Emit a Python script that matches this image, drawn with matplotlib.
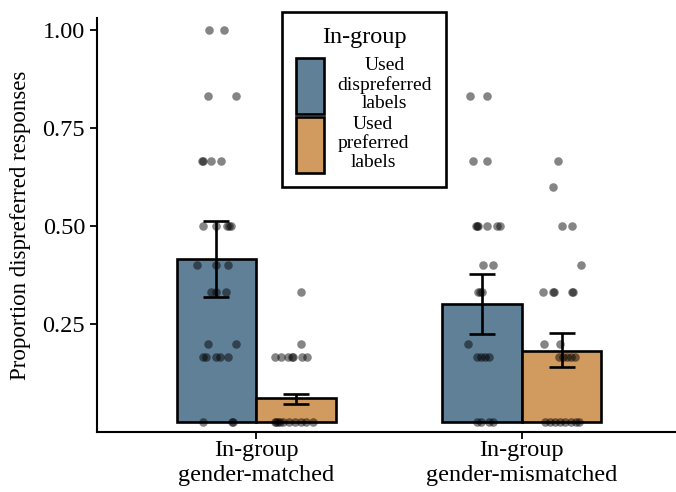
import numpy as np
import matplotlib
matplotlib.use("Agg")
import matplotlib.pyplot as plt
from matplotlib.patches import Patch

plt.rcParams["font.family"] = ["Liberation Serif", "DejaVu Serif"]

# -----------------------------
# Data
# -----------------------------
groups = ["In-group\ngender-matched", "In-group\ngender-mismatched"]
conditions = ["Used\ndispreferred\nlabels", "Used\npreferred\nlabels"]

means_dispreferred = [0.416, 0.301]
means_preferred = [0.061, 0.181]
lower_dispreferred = [0.318, 0.224]
upper_dispreferred = [0.514, 0.378]
lower_preferred = [0.046, 0.140]
upper_preferred = [0.072, 0.227]

# individual participants: proportion and horizontal jitter (in x units)
matched_disp_vals = [1.0, 1.0, 0.833, 0.833, 0.667, 0.667, 0.667, 0.667,
                     0.5, 0.5, 0.5, 0.5, 0.5, 0.4, 0.4, 0.4,
                     0.333, 0.333, 0.333, 0.2, 0.2,
                     0.167, 0.167, 0.167, 0.167, 0.167, 0.0, 0.0, 0.0]
matched_disp_jit = [-0.029, 0.030, -0.032, 0.072, -0.055, -0.051, -0.022, 0.017,
                    -0.052, 0.000, 0.040, 0.047, 0.053, -0.074, -0.003, 0.045,
                    -0.020, -0.001, 0.035, -0.033, 0.072,
                    -0.052, -0.040, -0.001, 0.013, 0.043, -0.049, 0.060, 0.064]

matched_pref_vals = [0.333, 0.2, 0.167, 0.167, 0.167, 0.167, 0.167, 0.167, 0.167,
                     0.0, 0.0, 0.0, 0.0, 0.0, 0.0, 0.0, 0.0, 0.0, 0.0]
matched_pref_jit = [0.020, 0.017, -0.078, -0.056, -0.032, -0.016, -0.012, 0.021, 0.041,
                    -0.080, -0.074, -0.068, -0.061, -0.050, -0.028, -0.005, 0.017, 0.039, 0.062]

mismatched_disp_vals = [0.833, 0.833, 0.667, 0.667, 0.5, 0.5, 0.5, 0.5, 0.5, 0.5,
                        0.4, 0.4, 0.333, 0.333, 0.333, 0.2,
                        0.167, 0.167, 0.167, 0.167, 0.0, 0.0, 0.0, 0.0]
mismatched_disp_jit = [-0.044, 0.019, -0.033, 0.019, -0.022, -0.019, -0.015, 0.019, 0.056, 0.067,
                       0.004, 0.043, -0.016, -0.008, 0.000, -0.053,
                       -0.018, -0.003, 0.012, 0.028, -0.020, -0.003, 0.028, 0.043]

mismatched_pref_vals = [0.667, 0.6, 0.5, 0.5, 0.4, 0.333, 0.333, 0.333, 0.333, 0.333,
                        0.2, 0.2, 0.167, 0.167, 0.167, 0.167, 0.167,
                        0.0, 0.0, 0.0, 0.0, 0.0, 0.0, 0.0, 0.0]
mismatched_pref_jit = [-0.013, -0.031, 0.002, 0.038, 0.072, -0.068, -0.033, -0.029, 0.041, 0.045,
                       -0.065, -0.006, -0.009, 0.006, 0.021, 0.036, 0.051,
                       -0.061, -0.042, -0.024, -0.005, 0.013, 0.036, 0.054, 0.065]

# -----------------------------
# Theme
# -----------------------------
BLUE = "#5F8097"
ORANGE = "#D19A5E"
BAR_W = 0.3
FS = 17.5

fig = plt.figure(figsize=(6.76, 4.92), dpi=100)
ax = fig.add_axes([0.1435, 0.122, 0.856, 0.841])

x = np.arange(1, len(groups) + 1)
xd = x - BAR_W / 2
xp = x + BAR_W / 2

ax.bar(xd, means_dispreferred, width=BAR_W, color=BLUE, edgecolor="black",
       linewidth=1.9, zorder=2)
ax.bar(xp, means_preferred, width=BAR_W, color=ORANGE, edgecolor="black",
       linewidth=1.9, zorder=2)

for xs, m, lo, hi in [(xd, means_dispreferred, lower_dispreferred, upper_dispreferred),
                      (xp, means_preferred, lower_preferred, upper_preferred)]:
    m = np.array(m)
    err = [m - np.array(lo), np.array(hi) - m]
    ax.errorbar(xs, m, yerr=err, fmt="none", ecolor="black", elinewidth=1.9,
                capsize=9.5, capthick=1.9, zorder=3)

points = [
    (xd[0], matched_disp_vals, matched_disp_jit),
    (xp[0], matched_pref_vals, matched_pref_jit),
    (xd[1], mismatched_disp_vals, mismatched_disp_jit),
    (xp[1], mismatched_pref_vals, mismatched_pref_jit),
]
for cx, vals, jit in points:
    ax.scatter(cx + np.array(jit), vals, s=38, color="black", alpha=0.48,
               linewidths=0, zorder=4)

ax.set_xlim(0.4, 2.58)
ax.set_ylim(-0.0255, 1.031)
ax.set_yticks([0.25, 0.5, 0.75, 1.0])
ax.set_yticklabels(["0.25", "0.50", "0.75", "1.00"])
ax.set_xticks(x)
ax.set_xticklabels(groups, linespacing=1.2)
ax.tick_params(axis="both", labelsize=FS, colors="black", width=1.3, length=5,
               direction="out")
ax.tick_params(axis="x", pad=1)
ax.set_ylabel("Proportion dispreferred responses", fontsize=16.5, labelpad=8)

for side in ["top", "right"]:
    ax.spines[side].set_visible(False)
for side in ["left", "bottom"]:
    ax.spines[side].set_linewidth(1.5)

handles = [Patch(facecolor=BLUE, edgecolor="black", linewidth=1.9),
           Patch(facecolor=ORANGE, edgecolor="black", linewidth=1.9)]
leg = ax.legend(handles, conditions, title="In-group", loc="upper center",
                bbox_to_anchor=(364 / 676, 1 - 12 / 492), bbox_transform=fig.transFigure,
                borderaxespad=0, fontsize=14, title_fontsize=17.5, frameon=True,
                fancybox=False, framealpha=1, handlelength=1.4, handleheight=4.05,
                labelspacing=0.12, handletextpad=0.7, borderpad=0.75)
leg.get_frame().set_edgecolor("black")
leg.get_frame().set_linewidth(1.9)
leg._legend_box.sep = 7
for t in leg.get_texts():
    t.set_multialignment("center")
    t.set_linespacing(1.1)

fig.savefig("out.png", dpi=100)
